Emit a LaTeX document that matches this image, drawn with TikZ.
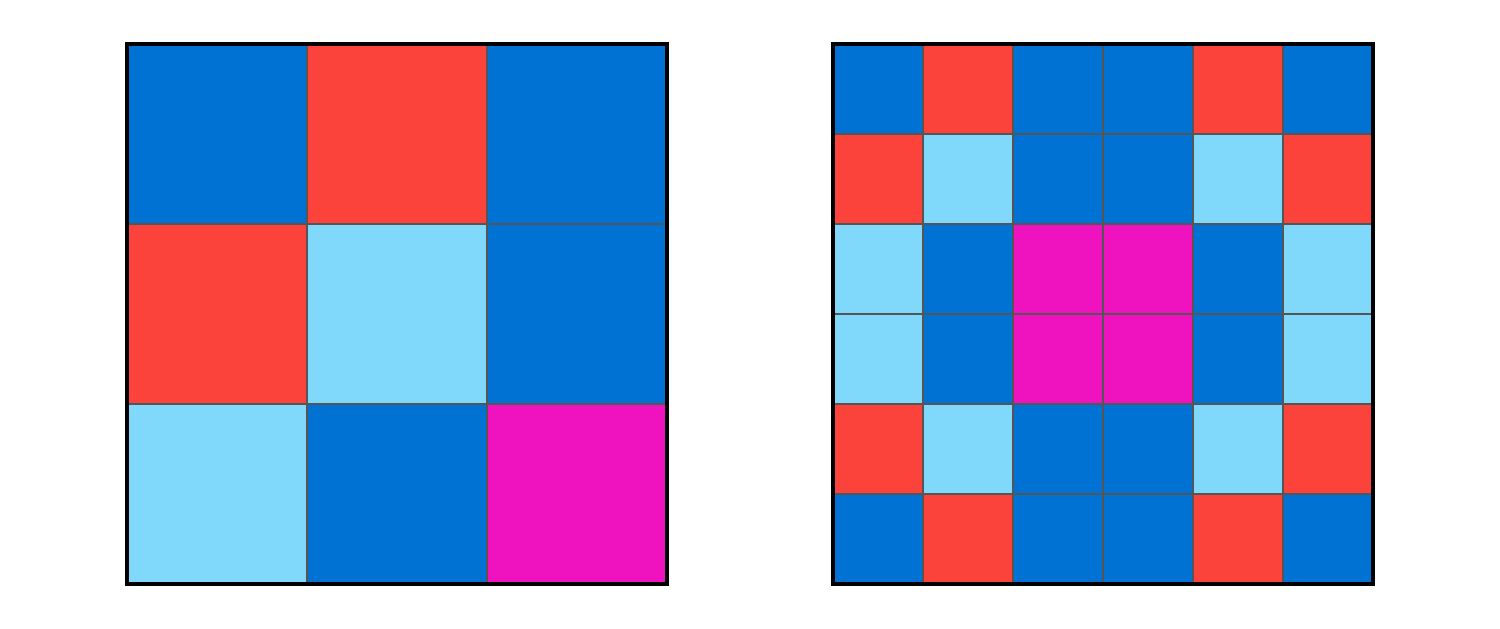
\documentclass[tikz,border=0pt]{standalone}
\usepackage{tikz}
\usetikzlibrary{positioning}
\definecolor{cellBlue}{HTML}{0072D4}
\definecolor{cellRed}{HTML}{FB433B}
\definecolor{cellLight}{HTML}{80D8FB}
\definecolor{cellMag}{HTML}{EE13BF}
\tikzstyle{cell} = [draw={rgb,255:red,85;green,85;blue,85}, line width=0.7pt]
\tikzstyle{frame} = [draw=black, line width=1.3pt]

\begin{document}
\begin{tikzpicture}
    \useasboundingbox (0,0) rectangle (15,6.29);

    % small grid, 3 x 3
    \foreach \row/\cols in {0/{cellBlue,cellRed,cellBlue},1/{cellRed,cellLight,cellBlue},2/{cellLight,cellBlue,cellMag}} {
        \foreach \c [count=\col from 0] in \cols {
            \draw [cell, fill=\c] ({1.27+1.8*\col}, {5.85-1.8*\row}) rectangle ++(1.8,-1.8);
        }
    }
    \draw [frame] (1.27,0.45) rectangle (6.67,5.85);

    % big grid, 6 x 6
    \foreach \row/\cols in {0/{cellBlue,cellRed,cellBlue,cellBlue,cellRed,cellBlue},
                            1/{cellRed,cellLight,cellBlue,cellBlue,cellLight,cellRed},
                            2/{cellLight,cellBlue,cellMag,cellMag,cellBlue,cellLight},
                            3/{cellLight,cellBlue,cellMag,cellMag,cellBlue,cellLight},
                            4/{cellRed,cellLight,cellBlue,cellBlue,cellLight,cellRed},
                            5/{cellBlue,cellRed,cellBlue,cellBlue,cellRed,cellBlue}} {
        \foreach \c [count=\col from 0] in \cols {
            \draw [cell, fill=\c] ({8.33+0.9*\col}, {5.85-0.9*\row}) rectangle ++(0.9,-0.9);
        }
    }
    \draw [frame] (8.33,0.45) rectangle (13.73,5.85);

\end{tikzpicture}
\end{document}
